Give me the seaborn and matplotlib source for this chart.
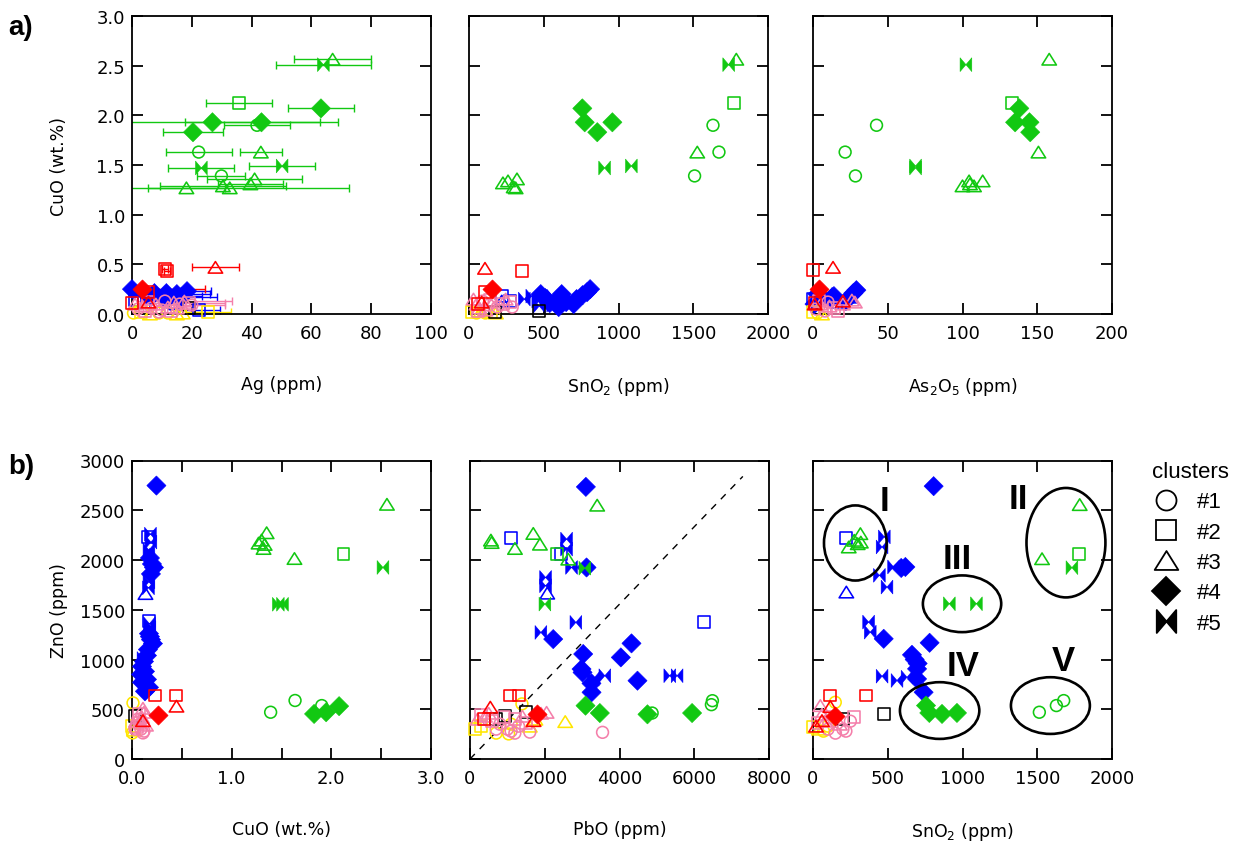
import matplotlib
matplotlib.use("Agg")
import matplotlib.pyplot as plt
import numpy as np
import pandas as pd
import seaborn as sns
from matplotlib.path import Path
from matplotlib.patches import Ellipse
from matplotlib.lines import Line2D
from matplotlib.ticker import MultipleLocator, FuncFormatter

# ---------------------------------------------------------------------------
# Measurements: one list per panel and colour group, entries (x, y, cluster).
# The Ag panel carries a fourth value: the Ag uncertainty (ppm).
# ---------------------------------------------------------------------------

# a) Ag (ppm) vs CuO (wt.%)
ag_green = [(67.1, 2.565, 3, 13), (64.0, 2.51, 5, 16), (35.9, 2.12, 2, 11),
            (63.2, 2.07, 4, 11), (26.9, 1.93, 4, 36), (43.3, 1.93, 4, 25.7),
            (41.8, 1.90, 1, 11), (20.4, 1.83, 4, 10), (22.3, 1.63, 1, 11),
            (43.1, 1.63, 3, 7), (23.2, 1.47, 5, 11), (50.2, 1.49, 5, 11),
            (29.9, 1.39, 1, 8), (18.2, 1.27, 3, 13), (30.4, 1.29, 3, 21),
            (32.7, 1.27, 3, 40), (39.6, 1.31, 3, 11), (41.0, 1.36, 3, 16)]
ag_red = [(11.0, 0.45, 2, 1), (11.6, 0.43, 2, 1), (27.9, 0.47, 3, 8),
          (3.3, 0.25, 4, 21), (0.0, 0.11, 2, 0), (5.5, 0.12, 3, 0),
          (5.5, 0.22, 2, 0)]
ag_blue = [(0.0, 0.25, 4, 0), (2.5, 0.21, 5, 0), (5.0, 0.19, 4, 0),
           (7.5, 0.21, 4, 6), (9.5, 0.19, 5, 0), (11.5, 0.21, 4, 0),
           (13.5, 0.18, 5, 10), (15.0, 0.20, 4, 11), (16.5, 0.17, 4, 12),
           (18.4, 0.23, 4, 8), (12.0, 0.16, 4, 0), (8.5, 0.15, 5, 0),
           (1.0, 0.14, 2, 0), (4.0, 0.12, 2, 0), (13.2, 0.10, 1, 0),
           (14.5, 0.12, 3, 0), (22.5, 0.04, 2, 7)]
ag_pink = [(1.0, 0.10, 3, 0), (2.0, 0.05, 1, 0), (3.5, 0.08, 3, 0),
           (4.5, 0.03, 2, 0), (6.5, 0.06, 1, 0), (8.0, 0.10, 3, 0),
           (10.0, 0.04, 1, 0), (12.0, 0.07, 3, 0), (14.0, 0.12, 3, 0),
           (16.0, 0.10, 1, 0), (17.5, 0.13, 3, 15.8), (19.0, 0.11, 2, 12),
           (9.0, 0.02, 1, 0), (5.5, 0.12, 2, 0), (11.0, 0.13, 1, 0),
           (15.0, 0.06, 3, 0), (13.0, 0.03, 2, 0), (20.0, 0.09, 1, 11)]
ag_yellow = [(0.5, 0.01, 1, 0), (3.0, 0.02, 2, 0), (6.0, 0.0, 3, 0),
             (9.0, 0.01, 1, 0), (12.0, 0.01, 1, 11), (15.0, 0.0, 3, 0),
             (17.0, 0.01, 3, 0), (25.5, 0.02, 2, 7.5)]
ag_black = [(19.0, 0.06, 2, 0)]

# a) SnO2 (ppm) vs CuO (wt.%)
sno2_cuo_green = [(1788, 2.565, 3), (1737, 2.51, 5), (1773, 2.12, 2), (1632, 1.90, 1),
                  (1527, 1.63, 3), (1672, 1.63, 1), (1509, 1.39, 1), (758, 2.07, 4),
                  (774, 1.93, 4), (858, 1.83, 4), (959, 1.93, 4), (907, 1.47, 5),
                  (1086, 1.49, 5), (227, 1.32, 3), (261, 1.34, 3), (321, 1.36, 3),
                  (299, 1.28, 3), (312, 1.27, 3)]
sno2_cuo_red = [(107, 0.46, 3), (352, 0.43, 2), (152, 0.25, 4), (107, 0.22, 2),
                (85, 0.12, 3), (60, 0.10, 2)]
sno2_cuo_blue = [(370, 0.15, 5), (420, 0.18, 5), (460, 0.13, 5), (480, 0.20, 4),
                 (510, 0.16, 4), (540, 0.11, 4), (560, 0.18, 5), (590, 0.14, 4),
                 (620, 0.20, 4), (650, 0.12, 4), (680, 0.17, 5), (700, 0.10, 4),
                 (720, 0.15, 4), (760, 0.19, 4), (790, 0.22, 4), (810, 0.25, 4),
                 (470, 0.08, 5), (600, 0.07, 4), (560, 0.09, 5), (219, 0.18, 2),
                 (274, 0.13, 2), (219, 0.13, 3)]
sno2_cuo_pink = [(30, 0.15, 3), (50, 0.10, 3), (70, 0.06, 3), (90, 0.13, 1),
                 (110, 0.04, 3), (130, 0.09, 1), (160, 0.12, 3), (190, 0.07, 1),
                 (230, 0.10, 2), (275, 0.12, 2), (289, 0.07, 1), (245, 0.15, 3),
                 (60, 0.03, 2), (140, 0.14, 2)]
sno2_cuo_yellow = [(20, 0.02, 2), (50, 0.01, 1), (80, 0.03, 3), (110, 0.01, 1),
                   (150, 0.02, 2), (180, 0.01, 3)]
sno2_cuo_black = [(468, 0.03, 2), (174, 0.02, 2)]

# a) As2O5 (ppm) vs CuO (wt.%)
as2o5_green = [(158, 2.565, 3), (102.3, 2.51, 5), (133.4, 2.12, 2), (138, 2.07, 4),
               (135.2, 1.93, 4), (144.8, 1.93, 4), (145.3, 1.83, 4), (150.8, 1.63, 3),
               (42.5, 1.90, 1), (21.5, 1.63, 1), (28.4, 1.39, 1), (68.6, 1.47, 5),
               (68.6, 1.49, 5), (100, 1.29, 3), (104.4, 1.34, 3), (107.7, 1.29, 3),
               (113.5, 1.34, 3), (105, 1.31, 3)]
as2o5_red = [(0.0, 0.44, 2), (13.4, 0.47, 3), (3.8, 0.25, 4), (1.1, 0.11, 2),
             (1.1, 0.10, 3), (20.0, 0.13, 3)]
as2o5_blue = [(0.0, 0.15, 2), (3, 0.20, 4), (6, 0.17, 4), (9, 0.20, 5),
              (12, 0.15, 4), (14, 0.18, 4), (17, 0.12, 3), (25, 0.17, 3),
              (27, 0.21, 4), (29, 0.24, 4), (22, 0.13, 4), (1, 0.10, 4),
              (8, 0.12, 5)]
as2o5_pink = [(2, 0.05, 1), (5, 0.10, 3), (8, 0.03, 1), (11, 0.08, 3),
              (14, 0.06, 2), (17, 0.03, 2), (20, 0.10, 3), (26, 0.14, 3),
              (28, 0.12, 3), (4, 0.13, 2), (10, 0.12, 1)]
as2o5_yellow = [(0, 0.02, 2), (3, 0.01, 1), (6, 0.0, 3)]

# b) CuO (wt.%) vs ZnO (ppm)
cuo_zno_green = [(2.558, 2560, 3), (2.122, 2059, 2), (2.518, 1925, 5), (1.468, 1555, 5),
                 (1.51, 1555, 5), (1.351, 2274, 3), (1.30, 2200, 3), (1.331, 2157, 3),
                 (1.27, 2170, 3), (1.32, 2116, 3), (1.63, 2015, 3), (1.391, 470, 1),
                 (1.636, 588, 1), (1.904, 537, 1), (1.827, 453, 4), (1.948, 470, 4),
                 (2.078, 531, 4)]
cuo_zno_blue = [(0.245, 2748, 4), (0.16, 2230, 2), (0.185, 2260, 5), (0.19, 2180, 5),
                (0.17, 2100, 5), (0.18, 2020, 4), (0.20, 1960, 4), (0.22, 1925, 4),
                (0.19, 1860, 4), (0.17, 1780, 5), (0.165, 1720, 5), (0.135, 1663, 3),
                (0.17, 1390, 2), (0.175, 1360, 5), (0.18, 1320, 5), (0.17, 1260, 4),
                (0.19, 1200, 4), (0.21, 1160, 4), (0.16, 1100, 4), (0.15, 1040, 4),
                (0.12, 980, 4), (0.10, 930, 4), (0.13, 880, 4), (0.09, 850, 4),
                (0.15, 800, 4), (0.10, 770, 4), (0.17, 720, 4), (0.13, 680, 4),
                (0.11, 1010, 5), (0.18, 1230, 4)]
cuo_zno_red = [(0.228, 638, 2), (0.44, 638, 2), (0.446, 531, 3), (0.26, 443, 4),
               (0.11, 386, 3)]
cuo_zno_yellow = [(0.01, 564, 1), (0.005, 262, 1), (0.0, 330, 2), (0.02, 290, 3)]
cuo_zno_pink = [(0.11, 262, 1), (0.12, 280, 1), (0.05, 320, 2), (0.08, 360, 2),
                (0.10, 420, 3), (0.12, 470, 3), (0.06, 400, 1), (0.09, 300, 1),
                (0.14, 340, 3), (0.07, 450, 2), (0.04, 380, 3), (0.11, 510, 3),
                (0.03, 300, 1)]
cuo_zno_black = [(0.03, 430, 2)]

# b) PbO (ppm) vs ZnO (ppm)
pbo_green = [(579, 2176, 3), (560, 2200, 3), (1203, 2116, 3), (1693, 2267, 3),
             (1871, 2159, 3), (2334, 2056, 2), (2628, 2009, 3), (3073, 1918, 5),
             (2004, 1557, 5), (3403, 2551, 3), (3091, 536, 4), (3474, 462, 4),
             (4748, 449, 4), (5942, 462, 4), (4873, 462, 1), (6459, 546, 1),
             (6486, 586, 1)]
pbo_blue = [(3100, 2735, 4), (1096, 2220, 2), (2584, 2210, 5), (2584, 2110, 5),
            (2432, 2059, 2), (2717, 1925, 5), (3118, 1925, 4), (2022, 1825, 5),
            (2022, 1741, 5), (2067, 1667, 3), (2833, 1373, 5), (1897, 1272, 5),
            (2227, 1205, 4), (3029, 1055, 4), (4321, 1162, 4), (4036, 1021, 4),
            (2984, 904, 4), (3011, 870, 4), (3296, 803, 5), (3608, 837, 5),
            (3252, 670, 4), (4481, 787, 4), (5345, 837, 5), (5541, 837, 5),
            (6254, 1373, 2), (3250, 760, 4)]
pbo_red = [(1078, 638, 2), (1302, 638, 2), (543, 521, 3), (1791, 453, 4),
           (1702, 386, 3), (366, 403, 2)]
pbo_yellow = [(2548, 376, 3), (1390, 554, 1), (142, 302, 2), (300, 330, 2),
              (1034, 252, 1), (1100, 350, 1), (1600, 330, 3), (700, 260, 1),
              (1750, 400, 3)]
pbo_pink = [(2049, 469, 3), (3546, 268, 1), (200, 400, 3), (400, 430, 3),
            (600, 380, 2), (800, 350, 1), (1000, 300, 1), (1200, 400, 2),
            (1400, 430, 3), (1600, 270, 1), (700, 300, 1), (900, 420, 2),
            (1100, 280, 1), (300, 440, 2), (500, 460, 3), (1300, 330, 1),
            (1500, 360, 2), (1900, 460, 3), (1200, 260, 1)]
pbo_black = [(935, 435, 2), (1497, 469, 2), (700, 400, 2)]
pbo_ref_line = [0, 7300]
zno_ref_line = [0, 2840]

# b) SnO2 (ppm) vs ZnO (ppm)
sno2_zno_green = [(1784, 2557, 3), (1777, 2060, 2), (1532, 2013, 3), (1732, 1923, 5),
                  (912, 1560, 5), (1093, 1560, 5), (756, 537, 4), (778, 463, 4),
                  (863, 453, 4), (963, 463, 4), (1514, 470, 1), (1628, 537, 1),
                  (1677, 587, 1), (239, 2131, 3), (276, 2198, 3), (317, 2265, 3),
                  (299, 2164, 3), (320, 2180, 3)]
sno2_zno_blue = [(221, 2225, 2), (223, 1678, 3), (807, 2742, 4), (477, 2232, 5),
                 (462, 2131, 5), (539, 1930, 5), (618, 1930, 4), (590, 1920, 4),
                 (444, 1846, 5), (495, 1728, 5), (372, 1376, 5), (383, 1275, 5),
                 (473, 1208, 4), (780, 1168, 4), (662, 1047, 4), (680, 1000, 4),
                 (696, 906, 4), (462, 832, 5), (562, 789, 5), (629, 822, 5),
                 (696, 805, 4), (740, 671, 4), (700, 960, 4)]
sno2_zno_red = [(111, 638, 2), (354, 638, 2), (116, 527, 3), (149, 436, 4),
                (60, 386, 3), (20, 330, 3)]
sno2_zno_black = [(473, 453, 2), (200, 400, 2)]
sno2_zno_yellow = [(149, 570, 1), (0, 320, 2), (40, 300, 3), (100, 330, 1),
                   (70, 280, 1)]
sno2_zno_pink = [(272, 419, 2), (49, 537, 3), (100, 300, 1), (150, 260, 1),
                 (200, 300, 1), (80, 380, 3), (130, 420, 2), (180, 350, 3),
                 (220, 280, 1), (60, 450, 3), (30, 360, 2), (250, 380, 1)]

# Cluster groupings drawn on the SnO2-ZnO panel: centre and extent (ppm)
group_names = ["I", "II", "III", "IV", "V"]
group_centre_sno2 = [283, 1692, 997, 847, 1588]
group_centre_zno = [2171, 2174, 1560, 487, 537]
group_width_sno2 = [419, 528, 524, 531, 528]
group_height_zno = [755, 1100, 570, 570, 570]
group_label_sno2 = [479, 1376, 968, 1003, 1677]
group_label_zno = [2600, 2617, 2013, 940, 990]

# ---------------------------------------------------------------------------
# Styling
# ---------------------------------------------------------------------------
sns.set_style("ticks")
plt.rcParams["font.family"] = ["DejaVu Sans"]
plt.rcParams["mathtext.default"] = "regular"
plt.rcParams["text.color"] = "black"
plt.rcParams["axes.labelcolor"] = "black"
plt.rcParams["xtick.color"] = "black"
plt.rcParams["ytick.color"] = "black"

COLORS = {"blue": "#0000FF", "yellow": "#FFE600", "black": "#000000",
          "pink": "#F47FAA", "red": "#FF0000", "green": "#12C812"}
LAYERS = ["blue", "yellow", "black", "pink", "red", "green"]

C = Path.CLOSEPOLY
M, L = Path.MOVETO, Path.LINETO
BOWTIE = Path([(-0.85, 1), (0, 0), (-0.85, -1), (-0.85, 1),
               (0.85, 1), (0, 0), (0.85, -1), (0.85, 1)],
              [M, L, L, C, M, L, L, C])
TRIANGLE = Path([(0, 0.8), (-1, -0.8), (1, -0.8), (0, 0.8)], [M, L, L, C])

MARKERS = {"#1": "o", "#2": "s", "#3": TRIANGLE, "#4": "D", "#5": BOWTIE}
SIZES = {"#1": 72, "#2": 74, "#3": 108, "#4": 96, "#5": 98}
FILLED = ["#4", "#5"]


def frame(groups):
    rows = []
    for colour, pts in groups.items():
        for p in pts:
            rows.append({"x": p[0], "y": p[1], "cluster": f"#{p[2]}",
                         "group": colour, "err": p[3] if len(p) > 3 else 0.0})
    return pd.DataFrame(rows)


def draw_points(ax, df, with_errors=False):
    for colour in LAYERS:
        sub = df[df["group"] == colour]
        if sub.empty:
            continue
        col = COLORS[colour]
        if with_errors:
            e = sub[sub["err"] > 0]
            if not e.empty:
                ax.errorbar(e["x"], e["y"], xerr=e["err"], fmt="none", ecolor=col,
                            elinewidth=1.0, capsize=3.2, capthick=1.0, zorder=2)
        for filled in (False, True):
            part = sub[sub["cluster"].isin(FILLED) == filled]
            if part.empty:
                continue
            sns.scatterplot(data=part, x="x", y="y", style="cluster", markers=MARKERS,
                            size="cluster", sizes=SIZES, color=col, edgecolor=col,
                            linewidth=1.15 if not filled else 0.4, legend=False,
                            ax=ax, clip_on=False, zorder=3)
            if not filled:
                coll = ax.collections[-1]
                coll.set_facecolor("none")
                coll.set_edgecolor(col)


def style_axis(ax, xlim, ylim, xstep, ystep, xfmt, yfmt, ylabels):
    ax.set_xlim(xlim)
    ax.set_ylim(ylim)
    ax.xaxis.set_major_locator(MultipleLocator(xstep))
    ax.yaxis.set_major_locator(MultipleLocator(ystep))
    ax.xaxis.set_major_formatter(FuncFormatter(xfmt))
    ax.yaxis.set_major_formatter(FuncFormatter(yfmt))
    ax.tick_params(which="both", direction="in", top=True, right=True,
                   length=8, width=1.3, colors="black", labelsize=13)
    ax.tick_params(axis="x", pad=7)
    ax.tick_params(axis="y", pad=5, labelleft=ylabels)
    for s in ax.spines.values():
        s.set_visible(True)
        s.set_linewidth(1.3)
        s.set_color("black")
    ax.set_xlabel("")
    ax.set_ylabel("")


def set_xlabel(ax, text):
    ax.set_xlabel(text, fontsize=12.5, color="black")
    ax.xaxis.set_label_coords(0.5, -0.205)


def set_ylabel(ax, text):
    ax.set_ylabel(text, fontsize=12.5, color="black")
    ax.yaxis.set_label_coords(-0.215, 0.5)


def fmt_int(v, _):
    return f"{v:.0f}"


def fmt_one(v, _):
    return f"{v:.1f}"


def fmt_whole_one(v, _):
    return f"{v:.1f}" if abs(v - round(v)) < 1e-6 else ""


# ---------------------------------------------------------------------------
# Figure
# ---------------------------------------------------------------------------
W, H = 1243, 845
fig = plt.figure(figsize=(W / 100, H / 100), dpi=100)


def add_axes(left_px, top_px, right_px, bottom_px):
    return fig.add_axes([left_px / W, 1 - bottom_px / H,
                         (right_px - left_px) / W, (bottom_px - top_px) / H])


ax_a1 = add_axes(132, 17, 431, 315)
ax_a2 = add_axes(469, 17, 768, 315)
ax_a3 = add_axes(813, 17, 1112, 315)
ax_b1 = add_axes(132, 461.5, 431, 760)
ax_b2 = add_axes(470, 461.5, 769, 760)
ax_b3 = add_axes(813, 461.5, 1112, 760)

# a) CuO against Ag, SnO2 and As2O5
draw_points(ax_a1, frame({"green": ag_green, "red": ag_red, "blue": ag_blue,
                          "pink": ag_pink, "yellow": ag_yellow, "black": ag_black}),
            with_errors=True)
style_axis(ax_a1, (0, 100), (0, 3.0), 20, 0.5, fmt_int, fmt_one, True)
set_xlabel(ax_a1, "Ag (ppm)")
set_ylabel(ax_a1, "CuO (wt.%)")

draw_points(ax_a2, frame({"green": sno2_cuo_green, "red": sno2_cuo_red,
                          "blue": sno2_cuo_blue, "pink": sno2_cuo_pink,
                          "yellow": sno2_cuo_yellow, "black": sno2_cuo_black}))
style_axis(ax_a2, (0, 2000), (0, 3.0), 500, 0.5, fmt_int, fmt_one, False)
set_xlabel(ax_a2, "SnO$_2$ (ppm)")

draw_points(ax_a3, frame({"green": as2o5_green, "red": as2o5_red, "blue": as2o5_blue,
                          "pink": as2o5_pink, "yellow": as2o5_yellow}))
style_axis(ax_a3, (0, 200), (0, 3.0), 50, 0.5, fmt_int, fmt_one, False)
set_xlabel(ax_a3, "As$_2$O$_5$ (ppm)")

# b) ZnO against CuO, PbO and SnO2
draw_points(ax_b1, frame({"green": cuo_zno_green, "blue": cuo_zno_blue,
                          "red": cuo_zno_red, "yellow": cuo_zno_yellow,
                          "pink": cuo_zno_pink, "black": cuo_zno_black}))
style_axis(ax_b1, (0, 3.0), (0, 3000), 0.5, 500, fmt_whole_one, fmt_int, True)
set_xlabel(ax_b1, "CuO (wt.%)")
set_ylabel(ax_b1, "ZnO (ppm)")

ax_b2.plot(pbo_ref_line, zno_ref_line, color="black", lw=1.0,
           linestyle=(0, (5, 5)), zorder=1)
draw_points(ax_b2, frame({"green": pbo_green, "blue": pbo_blue, "red": pbo_red,
                          "yellow": pbo_yellow, "pink": pbo_pink, "black": pbo_black}))
style_axis(ax_b2, (0, 8000), (0, 3000), 2000, 500, fmt_int, fmt_int, False)
set_xlabel(ax_b2, "PbO (ppm)")

draw_points(ax_b3, frame({"green": sno2_zno_green, "blue": sno2_zno_blue,
                          "red": sno2_zno_red, "black": sno2_zno_black,
                          "yellow": sno2_zno_yellow, "pink": sno2_zno_pink}))
style_axis(ax_b3, (0, 2000), (0, 3000), 500, 500, fmt_int, fmt_int, False)
set_xlabel(ax_b3, "SnO$_2$ (ppm)")

for name, cx, cy, w, h, lx, ly in zip(group_names, group_centre_sno2, group_centre_zno,
                                      group_width_sno2, group_height_zno,
                                      group_label_sno2, group_label_zno):
    ax_b3.add_patch(Ellipse((cx, cy), w, h, fill=False, edgecolor="black",
                            linewidth=1.9, zorder=4))
    ax_b3.text(lx, ly, name, ha="center", va="center", fontsize=25,
               fontweight="bold", family="Liberation Sans", color="black", zorder=5)

# panel letters
fig.text(8 / W, 1 - 28 / H, "a)", fontsize=20, fontweight="bold",
         family="Liberation Sans", ha="left", va="center", color="black")
fig.text(8 / W, 1 - 467 / H, "b)", fontsize=20, fontweight="bold",
         family="Liberation Sans", ha="left", va="center", color="black")

# cluster legend (marker shapes only)
legend_sizes = {"#1": 14.4, "#2": 14.0, "#3": 17.0, "#4": 13.8, "#5": 16.5}
handles = []
for key in ["#1", "#2", "#3", "#4", "#5"]:
    filled = key in FILLED
    handles.append(Line2D([], [], linestyle="none", marker=MARKERS[key],
                          markersize=legend_sizes[key], markeredgewidth=1.3,
                          color="black",
                          markerfacecolor="black" if filled else "none"))
leg = fig.legend(handles, ["#1", "#2", "#3", "#4", "#5"], title="clusters",
                 loc="upper left", bbox_to_anchor=(1152 / W, 1 - 462 / H),
                 frameon=False, borderpad=0, borderaxespad=0, handlelength=1.3,
                 handletextpad=0.7, labelspacing=0.42, alignment="left",
                 prop={"family": "Liberation Sans", "size": 16},
                 title_fontproperties={"family": "Liberation Sans", "size": 16},
                 labelcolor="black")
leg.get_title().set_color("black")

fig.savefig("out.png", dpi=100, facecolor="white")
